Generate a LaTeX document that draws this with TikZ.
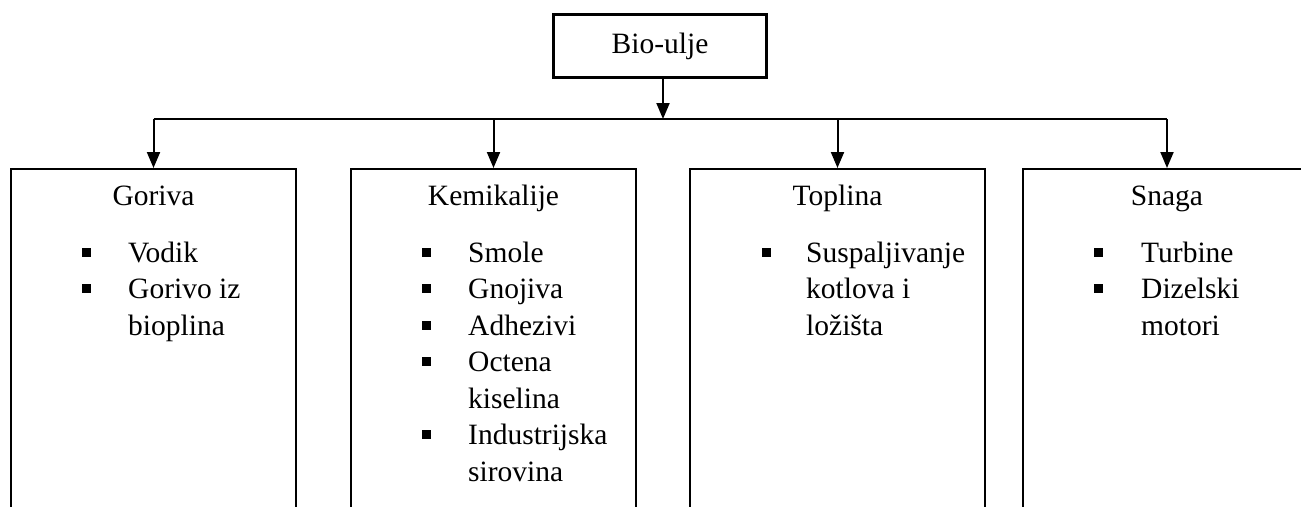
\documentclass[tikz,border=0pt]{standalone}
\usepackage{fontspec}
\setmainfont{Liberation Serif}
\usetikzlibrary{arrows.meta}
\tikzset{
 every node/.style={font=\fontsize{29.5}{36.5}\selectfont, inner sep=0pt},
 topbox/.style={draw, line width=3.5pt, minimum width=213pt, minimum height=63pt},
 catbox/.style={draw, line width=1.6pt, anchor=north, minimum height=400pt},
 titletext/.style={anchor=base},
 itemtext/.style={anchor=base west},
 bul/.style={fill, minimum size=9pt, inner sep=0pt},
 arr/.style={line width=2pt, -{Triangle[length=16pt,width=13pt]}},
 busline/.style={line width=1.6pt}
}
\begin{document}
\begin{tikzpicture}[x=1pt,y=-1pt]
\useasboundingbox (0,0) rectangle (1301,506);
\clip (0,0) rectangle (1301,506);
% top
\node[topbox] (bio) at (660,46) {Bio-ulje};
\coordinate (bus) at (0,119);
% boxes
\node[catbox, minimum width=285pt] (goriva) at (153.5,168) {};
\node[catbox, minimum width=285pt] (kem) at (493.5,168) {};
\node[catbox, minimum width=295pt] (top) at (837.5,168) {};
\node[catbox, minimum width=288pt] (snaga) at (1167,168) {};
% connectors
\draw[arr] ([xshift=3pt]bio.south) -- ([xshift=3pt]bio.south |- bus);
\draw[busline] (goriva.north |- bus) -- (snaga.north |- bus);
\draw[arr] (goriva.north |- bus) -- (goriva.north);
\draw[arr] (kem.north |- bus) -- (kem.north);
\draw[arr] (top.north |- bus) -- (top.north);
\draw[arr] (snaga.north |- bus) -- (snaga.north);
% titles
\node[titletext] (tg) at (153.5,205) {Goriva};
\node[titletext] (tk) at (493.5,205) {Kemikalije};
\node[titletext] (tt) at (837.5,205) {Toplina};
\node[titletext] (ts) at (1167,205) {Snaga};
% Goriva items
\node[bul] (gb1) at (86,252) {};
\node[itemtext] (g1) at (128,262) {Vodik};
\node[bul] (gb2) at (86,288.5) {};
\node[itemtext] (g2) at (128,298.5) {Gorivo iz};
\node[itemtext] (g3) at (128,335) {bioplina};
% Kemikalije items
\node[bul] (kb1) at (426,252) {};
\node[itemtext] (k1) at (468,262) {Smole};
\node[bul] (kb2) at (426,288.5) {};
\node[itemtext] (k2) at (468,298.5) {Gnojiva};
\node[bul] (kb3) at (426,325) {};
\node[itemtext] (k3) at (468,335) {Adhezivi};
\node[bul] (kb4) at (426,361.5) {};
\node[itemtext] (k4) at (468,371.5) {Octena};
\node[itemtext] (k5) at (468,408) {kiselina};
\node[bul] (kb6) at (426,434.5) {};
\node[itemtext] (k6) at (468,444.5) {Industrijska};
\node[itemtext] (k7) at (468,481) {sirovina};
% Toplina items
\node[bul] (tb1) at (766,252) {};
\node[itemtext] (t1) at (806,262) {Suspaljivanje};
\node[itemtext] (t2) at (806,298.5) {kotlova i};
\node[itemtext] (t3) at (806,335) {ložišta};
% Snaga items
\node[bul] (sb1) at (1098,252) {};
\node[itemtext] (s1) at (1141,262) {Turbine};
\node[bul] (sb2) at (1098,288.5) {};
\node[itemtext] (s2) at (1141,298.5) {Dizelski};
\node[itemtext] (s3) at (1141,335) {motori};
\end{tikzpicture}
\end{document}
